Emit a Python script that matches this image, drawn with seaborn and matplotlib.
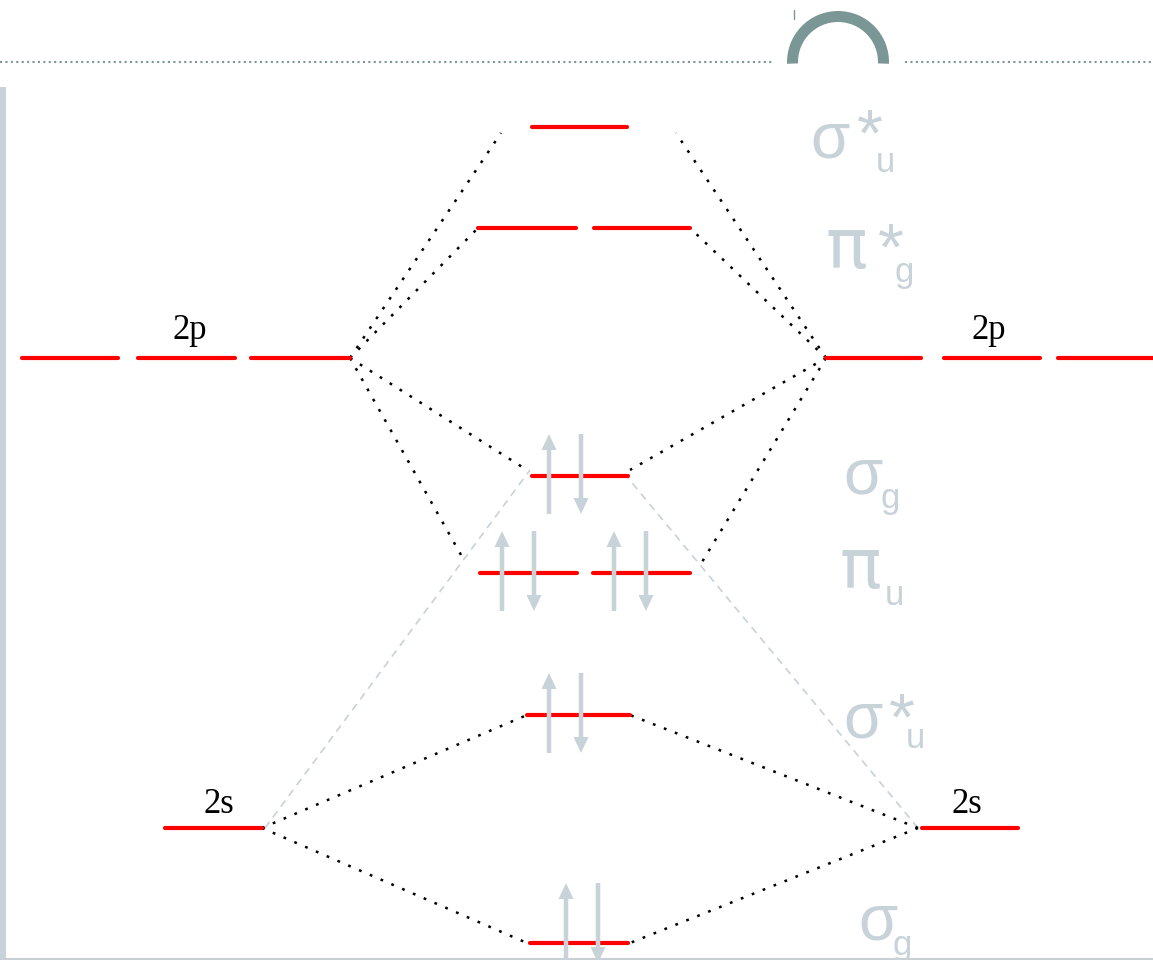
import numpy as np
import pandas as pd
import matplotlib
matplotlib.use("Agg")
import matplotlib.pyplot as plt
from matplotlib.patches import Wedge, Rectangle
import seaborn as sns

# ---------------------------------------------------------------------------
# MO diagram data (energies in screen units: larger value = lower energy)
# ---------------------------------------------------------------------------
ao_labels = ["2p", "2s"]
ao_energy = [358, 828]
ao_degeneracy = [3, 1]

mo_symbol = ["σ", "π", "σ", "π", "σ", "σ"]
mo_star = [True, True, False, False, True, False]
mo_sub = ["u", "g", "g", "u", "u", "g"]
mo_energy = [127, 228, 476, 573, 715, 943]
mo_degeneracy = [1, 2, 1, 2, 1, 1]
mo_electrons = [0, 0, 2, 4, 2, 2]

# ---------------------------------------------------------------------------
# layout
# ---------------------------------------------------------------------------
W, H = 1153, 960
RED = "#ff0000"
PALE = "#c8d3d9"
TEAL = "#7a9795"

# x extents of every level segment
left_ao_x = [[(22, 118), (138, 235), (251, 350)], [(165, 262)]]
right_ao_x = [[(826, 921), (944, 1040), (1058, 1153)], [(922, 1018)]]
mo_x = [[(532, 627)], [(478, 576), (594, 690)], [(532, 628)],
        [(480, 577), (593, 690)], [(527, 630)], [(530, 628)]]

# centre of each electron pair, and vertical reach of arrows
mo_arrow_x = [[], [], [565], [518, 630], [565], [582]]
mo_arrow_span = [(42, 38)] * 5 + [(60, 20)]

# AO label placement (centre x, baseline y) left / right
ao_label_x = [(190, 989), (219, 967)]
ao_label_y = [339, 813]

# MO label placement: symbol, star, subscript (all baselines)
mo_label_pos = [(810, 158), (826, 268), (843, 493), (840, 588), (843, 737), (858, 940)]
mo_star_pos = [(857, 156), (878, 270), None, None, (889, 740), None]
mo_sub_pos = [(876, 172), (894, 282), (880, 508), (885, 605), (906, 748), (893, 955)]

# correlation lines (dotted) from AO to MO
dotted_links = [
    ((350, 358), (501, 133)), ((350, 358), (478, 228)),
    ((350, 358), (527, 470)), ((350, 358), (465, 562)),
    ((826, 358), (676, 133)), ((826, 358), (690, 228)),
    ((826, 358), (630, 470)), ((826, 358), (702, 562)),
    ((262, 828), (527, 715)), ((262, 828), (527, 943)),
    ((918, 828), (630, 715)), ((918, 828), (630, 943)),
]
# s-p mixing (grey dashed)
dashed_links = [((265, 828), (530, 470)), ((918, 828), (628, 478))]

sns.set_style("white")
plt.rcParams["font.family"] = ["Liberation Sans", "DejaVu Sans"]

fig = plt.figure(figsize=(W / 100, H / 100), dpi=100)
ax = fig.add_axes([0, 0, 1, 1])

# energy level segments through seaborn
rows = []
seg = 0
for i, e in enumerate(ao_energy):
    for side in (left_ao_x, right_ao_x):
        for (x0, x1) in side[i][:ao_degeneracy[i]]:
            rows += [(seg, x0, e), (seg, x1, e)]
            seg += 1
for i, e in enumerate(mo_energy):
    for (x0, x1) in mo_x[i][:mo_degeneracy[i]]:
        rows += [(seg, x0, e), (seg, x1, e)]
        seg += 1
levels = pd.DataFrame(rows, columns=["seg", "x", "energy"])
sns.lineplot(data=levels, x="x", y="energy", units="seg", estimator=None,
             color=RED, lw=3, sort=False, legend=False, ax=ax, zorder=3)

# correlation lines
for (p0, p1) in dotted_links:
    ax.plot([p0[0], p1[0]], [p0[1], p1[1]], color="black", lw=1.8,
            linestyle=(0, (1.1, 3.6)), zorder=2)
for (p0, p1) in dashed_links:
    ax.plot([p0[0], p1[0]], [p0[1], p1[1]], color="#c9d1d7", lw=1.2,
            linestyle=(0, (4.5, 3.5)), zorder=1)

# electrons
for i, e in enumerate(mo_energy):
    n = mo_electrons[i]
    up, down = mo_arrow_span[i]
    for cx in mo_arrow_x[i]:
        if n >= 1:
            ax.arrow(cx - 16, e + down, 0, -(up + down), width=4.5, head_width=15,
                     head_length=16, length_includes_head=True, color=PALE, lw=0, zorder=4)
        if n >= 2:
            ax.arrow(cx + 16, e - up, 0, up + down, width=4.5, head_width=15,
                     head_length=16, length_includes_head=True, color=PALE, lw=0, zorder=4)
        n -= 2

# AO labels
for i, lab in enumerate(ao_labels):
    for x in ao_label_x[i]:
        ax.text(x, ao_label_y[i], lab, fontsize=25, family="Liberation Serif",
                ha="center", va="baseline", color="black")

# MO labels
for i in range(len(mo_symbol)):
    x, y = mo_label_pos[i]
    fam = "DejaVu Sans" if mo_symbol[i] == "π" else "Liberation Sans"
    size = 50 if mo_symbol[i] == "π" else 46
    ax.text(x, y, mo_symbol[i], fontsize=size, family=fam, color=PALE,
            ha="left", va="baseline")
    if mo_star[i]:
        sx, sy = mo_star_pos[i]
        ax.text(sx, sy, "*", fontsize=48, color=PALE, ha="left", va="baseline")
    ux, uy = mo_sub_pos[i]
    ax.text(ux, uy, mo_sub[i], fontsize=25, color=PALE, ha="left", va="baseline")

# slide decoration
ax.plot([0, 773], [62, 62], color=TEAL, lw=1.5, linestyle=(0, (1, 1.6)))
ax.plot([905, W], [62, 62], color=TEAL, lw=1.5, linestyle=(0, (1, 1.6)))
ax.add_patch(Wedge((838, 62), 51, 178, 362, width=11, color=TEAL, lw=0))
ax.plot([794, 794], [10, 19], color=TEAL, lw=1)
ax.add_patch(Rectangle((0, 87), 6, H - 87, color=PALE, lw=0))
ax.plot([0, W], [958.5, 958.5], color="#c8d0d6", lw=1.5)

ax.set_xlim(0, W)
ax.set_ylim(H, 0)
ax.axis("off")

fig.savefig("out.png", dpi=100)
